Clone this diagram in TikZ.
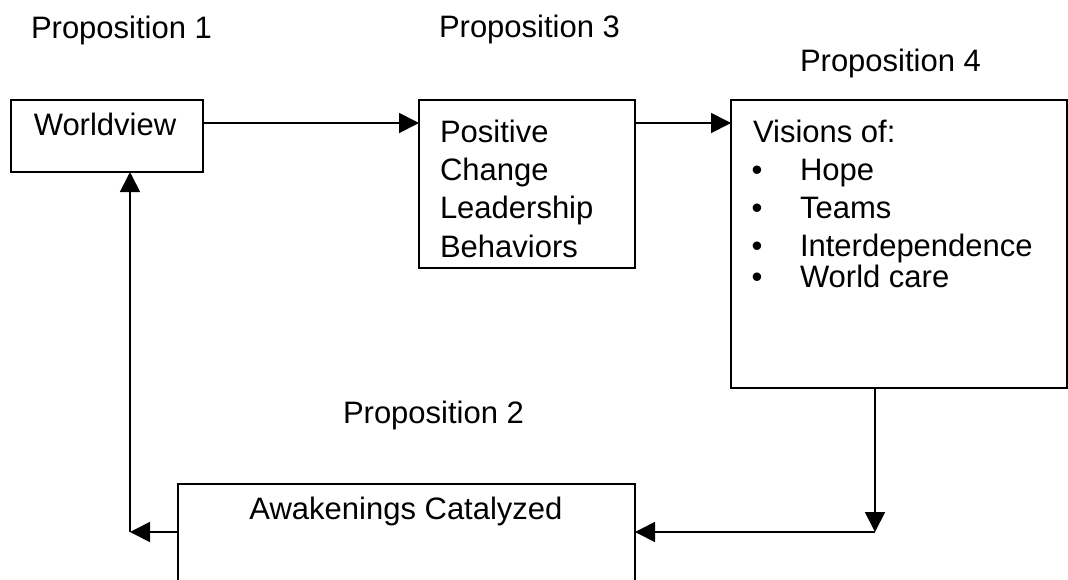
\documentclass[tikz,border=0pt]{standalone}
\usepackage{fontspec}
\setmainfont{Liberation Sans}
\usetikzlibrary{arrows.meta}
\begin{document}
\begin{tikzpicture}[x=1pt,y=-1pt,
  every node/.style={font=\fontsize{31}{37}\selectfont, inner sep=0pt, outer sep=0pt},
  boxnode/.style={draw, line width=1.7pt, anchor=north west, rectangle},
  txt/.style={anchor=base west},
  arr/.style={line width=1.7pt, -{Triangle[length=20pt,width=20pt]}}]
\useasboundingbox (0,0) rectangle (1068,579);
% labels
\node[txt] (p1) at (31,38) {Proposition 1};
\node[txt] (p3) at (439,37) {Proposition 3};
\node[txt] (p4) at (800,71) {Proposition 4};
\node[txt] (p2) at (343,423) {Proposition 2};
% boxes
\node[boxnode, minimum width=192pt, minimum height=72pt] (wv) at (11,100) {};
\node[anchor=base] (wvt) at (105,135) {Worldview};
\node[boxnode, minimum width=216pt, minimum height=168pt] (pos) at (419,100) {};
\node[txt] (pos1) at (440,142) {Positive};
\node[txt] (pos2) at (440,180) {Change};
\node[txt] (pos3) at (440,218) {Leadership};
\node[txt] (pos4) at (440,257) {Behaviors};
\node[boxnode, minimum width=336pt, minimum height=288pt] (vis) at (731,100) {};
\node[txt] (vis0) at (753,142) {Visions of:};
\foreach \y/\t [count=\i] in {180/Hope,218/Teams,256/Interdependence,287/World care}{
  \node[anchor=base] (b\i) at (757,\y) {•};
  \node[txt] (v\i) at (800,\y) {\t};
}
\begin{scope}
\clip (0,0) rectangle (1068,579);
\node[boxnode, minimum width=457pt, minimum height=130pt] (awk) at (178,484) {};
\end{scope}
\node[anchor=base] (awkt) at (406,519) {Awakenings Catalyzed};
% connectors
\coordinate (r1) at (0,123);
\coordinate (c3) at (875,532);
\coordinate (c4) at (130,532);
\draw[arr] (wv.east |- r1) -- (pos.west |- r1);
\draw[arr] (pos.east |- r1) -- (vis.west |- r1);
\draw[arr] (vis.south -| c3) -- (c3);
\draw[arr] (c3) -- (awk.east |- c3);
\draw[arr] (awk.west |- c4) -- (c4);
\draw[arr] (c4) -- (wv.south -| c4);
\end{tikzpicture}
\end{document}
